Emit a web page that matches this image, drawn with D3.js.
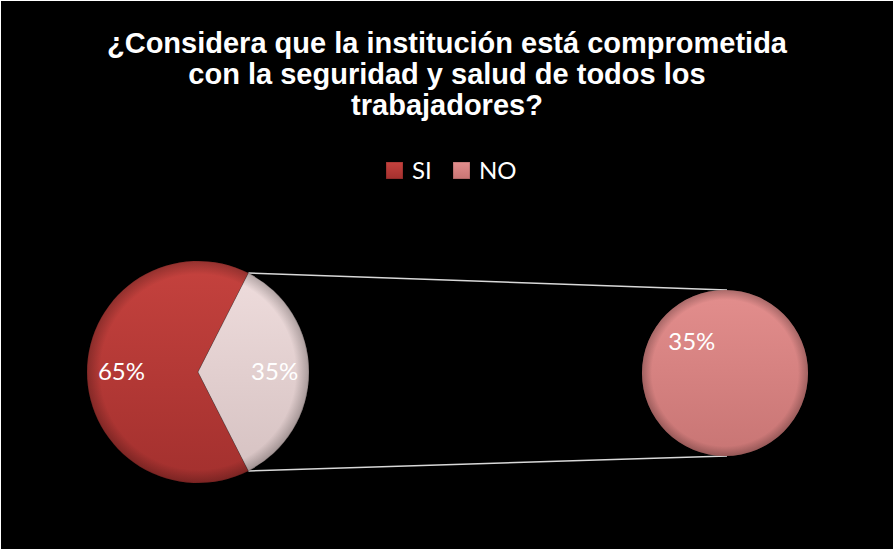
<!DOCTYPE html>
<html>
<head>
    <meta charset="utf-8">
    <style>
        body {
            margin: 0;
            background-color: #ffffff;
        }
        .title {
            font-family: Arial, "Liberation Sans", sans-serif;
            font-size: 29px;
            font-weight: bold;
            fill: #ffffff;
            text-anchor: middle;
        }
        .legend text, .label {
            font-family: Lato, "Open Sans", sans-serif;
            font-size: 24px;
            fill: #ffffff;
        }
        .link {
            stroke: #d9d9d9;
            stroke-width: 1.5px;
        }
    </style>
</head>
<body>
    <div id="chart"></div>
    <script src="https://d3js.org/d3.v7.min.js"></script>
    <script>
        var titleLines = ["¿Considera que la institución está comprometida",
                          "con la seguridad y salud de todos los",
                          "trabajadores?"];
        var categories = ["SI", "NO"];
        var values = [65, 35];
        var labels = ["65%", "35%"];
        // second pie only shows the "NO" share, as a single piece
        var secondValues = [35];
        var secondLabels = ["35%"];

        var W = 895, H = 550;

        var svg = d3.select("#chart").append("svg")
            .attr("width", W)
            .attr("height", H);

        var defs = svg.append("defs");

        function grad(id, top, bottom) {
            var g = defs.append("linearGradient")
                .attr("id", id)
                .attr("x1", 0).attr("y1", 0).attr("x2", 0).attr("y2", 1);
            g.append("stop").attr("offset", "0%").attr("stop-color", top);
            g.append("stop").attr("offset", "100%").attr("stop-color", bottom);
        }
        grad("gSI", "#c5423e", "#a3302e");
        grad("gNO", "#eedcdc", "#d6c2c2");
        grad("gNO2", "#e38e8d", "#c87574");

        // soft bevel: darker rim
        var rim = defs.append("radialGradient").attr("id", "rim")
            .attr("cx", "50%").attr("cy", "50%").attr("r", "50%");
        rim.append("stop").attr("offset", "88%").attr("stop-color", "#000").attr("stop-opacity", 0);
        rim.append("stop").attr("offset", "100%").attr("stop-color", "#000").attr("stop-opacity", 0.25);

        var colors = {SI: "url(#gSI)", NO: "url(#gNO)"};

        svg.append("rect")
            .attr("x", 1).attr("y", 1)
            .attr("width", W - 3).attr("height", H - 2)
            .attr("fill", "#000000");

        // title
        svg.append("text")
            .attr("class", "title")
            .selectAll("tspan")
            .data(titleLines)
            .join("tspan")
            .attr("x", 447)
            .attr("y", function(d, i) { return 53 + i * 31; })
            .text(function(d) { return d; });

        // legend
        var legendColors = ["url(#gSI)", "url(#gNO2)"];
        var legendX = d3.scalePoint().domain(categories).range([386, 453]);
        var legend = svg.append("g").attr("class", "legend")
            .selectAll("g")
            .data(categories)
            .join("g")
            .attr("transform", function(d) { return "translate(" + legendX(d) + ",162)"; });
        legend.append("rect")
            .attr("width", 17).attr("height", 17)
            .attr("fill", function(d, i) { return legendColors[i]; })
            .attr("stroke", "rgba(0,0,0,0.25)")
            .attr("stroke-width", 1);
        legend.append("text")
            .attr("x", 26).attr("y", 17)
            .text(function(d) { return d; });

        // main pie
        var cx1 = 198, cy1 = 372, r1 = 111;
        var cx2 = 725, cy2 = 373, r2 = 83;
        var noShare = values[1] / d3.sum(values);

        var pie = d3.pie().sort(null)
            .startAngle(Math.PI / 2 + Math.PI * noShare)
            .endAngle(Math.PI / 2 + Math.PI * noShare + 2 * Math.PI);
        var arcs = pie(values);
        var arc = d3.arc().innerRadius(0).outerRadius(r1);
        var labelArc = d3.arc().innerRadius(r1 * 0.69).outerRadius(r1 * 0.69);

        // connector lines from the NO slice to the second pie
        var noArc = arcs[1];
        var pTop = [cx1 + r1 * Math.sin(noArc.startAngle), cy1 - r1 * Math.cos(noArc.startAngle)];
        var pBot = [cx1 + r1 * Math.sin(noArc.endAngle), cy1 - r1 * Math.cos(noArc.endAngle)];
        svg.append("line").attr("class", "link")
            .attr("x1", pTop[0]).attr("y1", pTop[1])
            .attr("x2", cx2 + 2).attr("y2", cy2 - r2);
        svg.append("line").attr("class", "link")
            .attr("x1", pBot[0]).attr("y1", pBot[1])
            .attr("x2", cx2 + 2).attr("y2", cy2 + r2);

        var g1 = svg.append("g").attr("transform", "translate(" + cx1 + "," + cy1 + ")");
        g1.selectAll("path.slice")
            .data(arcs)
            .join("path")
            .attr("class", "slice")
            .attr("d", arc)
            .attr("fill", function(d, i) { return colors[categories[i]]; })
            .attr("stroke", "rgba(0,0,0,0.18)")
            .attr("stroke-width", 1);
        g1.append("circle").attr("r", r1).attr("fill", "url(#rim)");
        g1.selectAll("text")
            .data(arcs)
            .join("text")
            .attr("class", "label")
            .attr("text-anchor", "middle")
            .attr("dy", "0.35em")
            .attr("transform", function(d) { return "translate(" + labelArc.centroid(d) + ")"; })
            .text(function(d, i) { return labels[i]; });

        // second pie
        var pie2 = d3.pie().sort(null);
        var arcs2 = pie2(secondValues);
        var arc2 = d3.arc().innerRadius(0).outerRadius(r2);
        var g2 = svg.append("g").attr("transform", "translate(" + cx2 + "," + cy2 + ")");
        g2.selectAll("path")
            .data(arcs2)
            .join("path")
            .attr("d", arc2)
            .attr("fill", "url(#gNO2)");
        g2.append("circle").attr("r", r2).attr("fill", "url(#rim)");
        g2.selectAll("text.label")
            .data(arcs2)
            .join("text")
            .attr("class", "label")
            .attr("text-anchor", "middle")
            .attr("dy", "0.35em")
            .attr("x", -r2 * 0.4)
            .attr("y", -r2 * 0.38)
            .text(function(d, i) { return secondLabels[i]; });
    </script>
</body>
</html>
